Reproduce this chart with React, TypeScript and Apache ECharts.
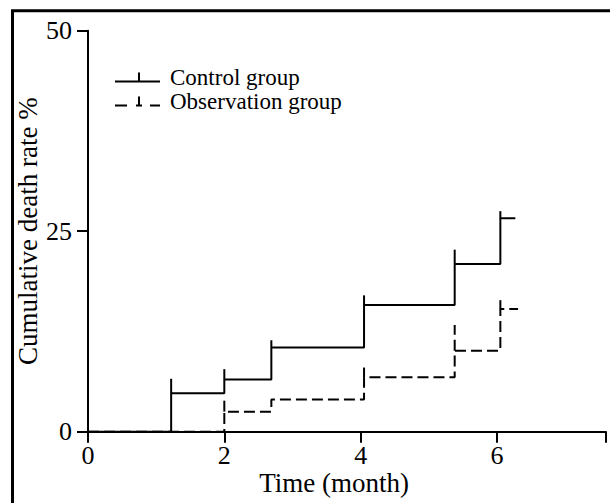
import React, { useEffect, useRef } from "react";
import * as echarts from "echarts";

// ---- data ----
const xAxisMax = 7.6;
const xTickValues = [0, 2, 4, 6, 7.6];
const xLabelValues = [0, 2, 4, 6];
const yTickValues = [0, 25, 50];

const controlTimes = [0, 1.22, 2, 2.69, 4.05, 5.38, 6.05, 6.27];
const controlRates = [0, 4.8, 6.5, 10.5, 15.8, 20.9, 26.6, 26.6];
const controlMarkTimes = [1.22, 2, 2.69, 4.05, 5.38, 6.05];
const controlMarkLevels = [4.8, 6.5, 10.5, 15.8, 20.9, 26.6];
const controlMarkTops = [6.6, 7.8, 11.4, 17.0, 22.7, 27.5];

const observationTimes = [0, 2, 2.69, 4.05, 5.38, 6.05, 6.31];
const observationRates = [0, 2.5, 4.0, 6.8, 10.1, 15.3, 15.3];
const observationMarkTimes = [2, 4.05, 5.38, 6.05];
const observationMarkLevels = [2.5, 6.8, 10.1, 15.3];
const observationMarkTops = [4.1, 8.0, 13.3, 16.4];

const seriesNames = ["Control group", "Observation group"];
const xAxisTitle = "Time (month)";
const yAxisTitle = "Cumulative death rate %";

const FONT = "'Liberation Serif', 'Times New Roman', serif";

const controlIcon = "path://M0,8 H45 V10 H0 Z M23,0 H25 V8 H23 Z";
const observationIcon =
  "path://M0,8 H12 V10 H0 Z M23,0 H25 V8 H23 Z M21,8 H27 V10 H21 Z M35,8 H45 V10 H35 Z";

function zip2(a: number[], b: number[]) {
  return a.map((v, i) => [v, b[i]]);
}
function zip3(a: number[], b: number[], c: number[]) {
  return a.map((v, i) => [v, b[i], c[i]]);
}

function tickRenderer(dashed: boolean) {
  return (params: any, api: any) => {
    const p0 = api.coord([api.value(0), api.value(1)]);
    const p1 = api.coord([api.value(0), api.value(2)]);
    return {
      type: "line",
      shape: { x1: p0[0], y1: p0[1], x2: p1[0], y2: p1[1] },
      style: {
        stroke: "#000",
        lineWidth: 2,
        lineDash: dashed ? [11, 5] : null,
      },
    };
  };
}

export default function App() {
  const ref = useRef<HTMLDivElement>(null);

  useEffect(() => {
    if (!ref.current) return;
    const chart = echarts.init(ref.current, undefined, { renderer: "svg" });
    const option: any = {
      animation: false,
      backgroundColor: "#fff",
      grid: {
        left: 88,
        right: 4,
        top: 30.7,
        bottom: 71.3,
        containLabel: false,
        outerBoundsMode: "none",
      },
      graphic: [
        {
          type: "rect",
          shape: { x: 12.5, y: 10.8, width: 700, height: 600 },
          style: { stroke: "#000", lineWidth: 3, fill: "none" },
          silent: true,
          z: 100,
        },
      ],
      legend: {
        orient: "vertical",
        left: 115,
        top: 66,
        padding: 0,
        itemWidth: 45,
        itemHeight: 10,
        itemGap: 1,
        selectedMode: false,
        itemStyle: { color: "#000", borderWidth: 0 },
        textStyle: {
          fontFamily: FONT,
          fontSize: 23,
          color: "#000",
          padding: [0, 0, 0, 5],
        },
        data: [
          { name: seriesNames[0], icon: controlIcon },
          { name: seriesNames[1], icon: observationIcon },
        ],
      },
      xAxis: {
        type: "value",
        min: 0,
        max: xAxisMax,
        interval: 2,
        name: xAxisTitle,
        nameLocation: "middle",
        nameGap: 38,
        nameMoveOverlap: false,
        nameTextStyle: {
          fontFamily: FONT,
          fontSize: 27,
          color: "#000",
          padding: [0, 26, 0, 0],
        },
        splitLine: { show: false },
        axisLine: { show: true, onZero: false, lineStyle: { color: "#000", width: 2 } },
        axisTick: {
          show: true,
          length: 11,
          inside: false,
          customValues: xTickValues,
          lineStyle: { color: "#000", width: 2 },
        },
        axisLabel: {
          customValues: xLabelValues,
          margin: 11,
          fontFamily: FONT,
          fontSize: 26,
          color: "#000",
        },
      },
      yAxis: {
        type: "value",
        min: 0,
        max: 50,
        interval: 25,
        name: yAxisTitle,
        nameLocation: "middle",
        nameGap: 47,
        nameMoveOverlap: false,
        nameTextStyle: { fontFamily: FONT, fontSize: 27, color: "#000" },
        splitLine: { show: false },
        axisLine: { show: true, onZero: false, lineStyle: { color: "#000", width: 2 } },
        axisTick: {
          show: true,
          length: 11,
          inside: false,
          customValues: yTickValues,
          lineStyle: { color: "#000", width: 2 },
        },
        axisLabel: {
          margin: 16,
          fontFamily: FONT,
          fontSize: 26,
          color: "#000",
        },
      },
      series: [
        {
          name: seriesNames[0],
          type: "line",
          step: "end",
          symbol: "none",
          color: "#000",
          lineStyle: { color: "#000", width: 2, type: "solid" },
          data: zip2(controlTimes, controlRates),
        },
        {
          name: seriesNames[1],
          type: "line",
          step: "end",
          symbol: "none",
          color: "#000",
          lineStyle: { color: "#000", width: 2, type: [11, 5] },
          data: zip2(observationTimes, observationRates),
        },
        {
          name: seriesNames[0],
          type: "custom",
          renderItem: tickRenderer(false),
          data: zip3(controlMarkTimes, controlMarkLevels, controlMarkTops),
          silent: true,
        },
        {
          name: seriesNames[1],
          type: "custom",
          renderItem: tickRenderer(true),
          data: zip3(observationMarkTimes, observationMarkLevels, observationMarkTops),
          silent: true,
        },
      ],
    };
    chart.setOption(option);
    return () => chart.dispose();
  }, []);

  return (
    <div
      ref={ref}
      style={{ position: "absolute", left: 0, top: 0, width: 610, height: 503 }}
    />
  );
}
